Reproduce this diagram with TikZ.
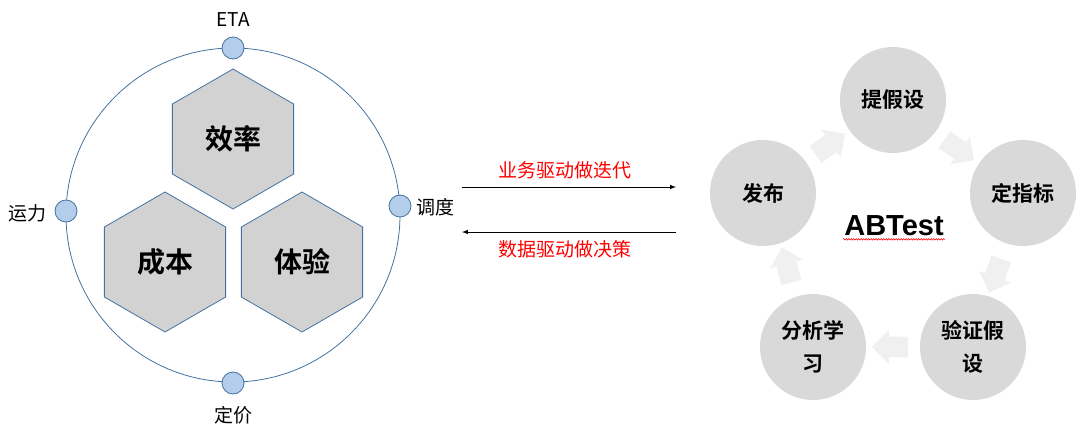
\documentclass[tikz,border=0pt]{standalone}
\usepackage{fontspec}
\setmainfont{Liberation Sans}
\newfontfamily\cjk{Noto Sans CJK SC}
\newfontfamily\cjkb{Noto Sans CJK SC Bold}
\usetikzlibrary{shapes.geometric,shapes.arrows,decorations.pathmorphing}
\definecolor{ring}{RGB}{68,114,160}
\definecolor{dot}{RGB}{180,205,235}
\definecolor{hex}{RGB}{210,210,210}
\definecolor{cyc}{RGB}{217,217,217}
\definecolor{arr}{RGB}{240,240,240}
\tikzset{
 hexnode/.style={regular polygon,regular polygon sides=6,shape border rotate=30,minimum size=140pt,inner sep=0pt,fill=hex,draw=ring,line width=0.8pt,font=\cjkb\fontsize{28}{30}\selectfont},
 dotnode/.style={circle,minimum size=22pt,inner sep=0pt,fill=dot,draw=ring,line width=0.8pt},
 lab/.style={font=\cjk\fontsize{19}{21}\selectfont},
 cyc/.style={circle,minimum size=106pt,inner sep=0pt,fill=cyc,align=center,font=\cjkb\fontsize{21}{33}\selectfont},
 blk/.style={single arrow,fill=arr,minimum height=36pt,minimum width=34pt,single arrow head extend=6pt,inner sep=9pt},
 redlab/.style={font=\cjk\fontsize{19}{21}\selectfont,text=red}
}
\begin{document}
\begin{tikzpicture}[x=1pt,y=-1pt]
\useasboundingbox (0,0) rectangle (1080,445);
\node[circle,draw=ring,line width=0.8pt,minimum size=334pt,inner sep=0pt] (big) at (233,215) {};
\node[dotnode] (dt) at (233,48) {};
\node[dotnode] (dl) at (66,211) {};
\node[dotnode] (dr) at (400,206) {};
\node[dotnode] (db) at (233,383) {};
\node[lab] (eta) at (233,20) {ETA};
\node[lab,anchor=east] (yl) at (50,213) {运力};
\node[lab,anchor=west] (dd) at (413,207) {调度};
\node[lab] (dj) at (233,415) {定价};
\node[hexnode] (h1) at (233,139) {效率};
\node[hexnode] (h2) at (165,262) {成本};
\node[hexnode] (h3) at (302,262) {体验};
\coordinate (a1s) at (462,187); \coordinate (a1e) at (676,187);
\coordinate (a2s) at (676,232); \coordinate (a2e) at (462,232);
\draw[-latex,line width=1pt] (a1s) -- (a1e);
\draw[-latex,line width=1pt] (a2s) -- (a2e);
\node[redlab] (r1) at (565,170) {业务驱动做迭代};
\node[redlab] (r2) at (565,249) {数据驱动做决策};
\node[cyc] (c1) at (893,100) {提假设};
\node[cyc] (c2) at (1023,193) {定指标};
\node[cyc] (c3) at (973,347) {验证假\\设};
\node[cyc] (c4) at (813,347) {分析学\\习};
\node[cyc] (c5) at (763,193) {发布};
\node[blk,rotate=-35] (b1) at (955,147) {};
\node[blk,rotate=-110] (b2) at (997,271) {};
\node[blk,rotate=180] (b3) at (895,347) {};
\node[blk,rotate=105] (b4) at (788,270) {};
\node[blk,rotate=35] (b5) at (826,147) {};
\node[font=\fontsize{29}{31}\selectfont\bfseries,inner sep=1pt] (ab) at (894,226) {ABTest};
\coordinate (u1) at ([yshift=-2pt]ab.south west);
\coordinate (u2) at ([yshift=-2pt]ab.south east);
\draw[red,line width=0.5pt,decorate,decoration={zigzag,amplitude=0.8pt,segment length=2.5pt}] (u1) -- (u2);
\end{tikzpicture}
\end{document}
